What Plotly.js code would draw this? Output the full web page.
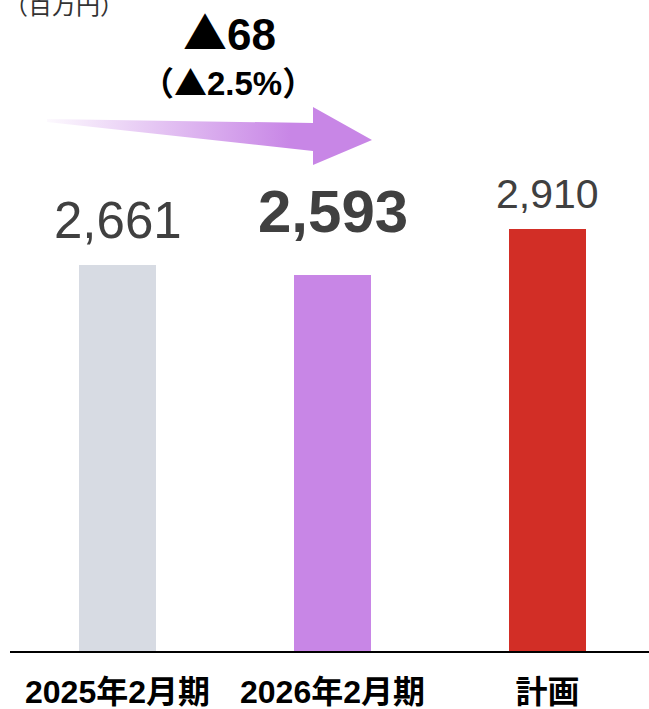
<!DOCTYPE html>
<html>
<head>
<meta charset="utf-8">
<script src="https://cdn.plot.ly/plotly-3.0.1.min.js"></script>
<style>
html,body{margin:0;padding:0;background:#fff;}
#chart{width:649px;height:709px;}
</style>
</head>
<body>
<div id="chart"></div>
<script>
// ---- data ----
const categories = ['2025年2月期', '2026年2月期', '計画'];
const values = [2661, 2593, 2910];
const barColors = ['#D7DBE3', '#C886E6', '#D22E26'];
const unitLabel = '（百万円）';
const changeLabel = '▲68';
const changePctLabel = '（▲2.5%）';

// ---- layout helpers (pixel space overlay for decoration) ----
const W = 649, H = 709;
const mL = 10, mR = 0, mT = 0, mB = 58;
const plotH = H - mT - mB;
const pxPerUnit = 0.14503;
const yMax = plotH / pxPerUnit;

const fontLatin = '"Liberation Sans", Arial, "Noto Sans CJK JP", sans-serif';
const cjkSpan = s => s.replace(/([（）▲])/g, '<span style="font-family:\'Noto Sans CJK JP\'">$1</span>');

const barTrace = {
  type: 'bar',
  x: categories,
  y: values,
  width: 0.358,
  marker: {color: barColors},
  hoverinfo: 'skip',
  xaxis: 'x', yaxis: 'y'
};

// decorative arrow (pixel coordinates on overlay axes)
const arrowX = [47, 313, 313, 372, 313, 313, 47, 47];
const arrowY = [119, 123, 107, 140, 165, 151, 122, 119];
const arrowTrace = {
  type: 'scatter',
  mode: 'lines',
  x: arrowX, y: arrowY,
  fill: 'toself',
  line: {width: 0, color: 'rgba(0,0,0,0)'},
  fillcolor: '#C886E6',
  fillgradient: {
    type: 'horizontal',
    colorscale: [[0, 'rgba(200,134,230,0.05)'], [0.75, 'rgba(200,134,230,1)'], [1, 'rgba(200,134,230,1)']]
  },
  hoverinfo: 'skip',
  showlegend: false,
  xaxis: 'x2', yaxis: 'y2'
};

const valueFonts = [
  {size: 51, weight: 'normal', shift: 45},
  {size: 60, weight: 'bold', shift: 63},
  {size: 41, weight: 'normal', shift: 35}
];

const annotations = categories.map((c, i) => ({
  xref: 'x', yref: 'y',
  x: c, y: values[i],
  text: values[i].toLocaleString('en-US'),
  showarrow: false,
  yanchor: 'middle',
  yshift: valueFonts[i].shift,
  font: {family: fontLatin, size: valueFonts[i].size, color: '#404040', weight: valueFonts[i].weight}
}));

annotations.push(
  {xref: 'x2', yref: 'y2', x: 64, y: 3, text: unitLabel, showarrow: false,
   xanchor: 'center', yanchor: 'middle',
   font: {family: '"Noto Sans CJK JP", sans-serif', size: 24, color: '#333333'}},
  {xref: 'x2', yref: 'y2', x: 229, y: 31, text: cjkSpan(changeLabel), showarrow: false,
   xanchor: 'center', yanchor: 'middle',
   font: {family: fontLatin, size: 44, color: '#000000', weight: 'bold'}},
  {xref: 'x2', yref: 'y2', x: 228, y: 81, text: cjkSpan(changePctLabel), showarrow: false,
   xanchor: 'center', yanchor: 'middle',
   font: {family: fontLatin, size: 33, color: '#000000', weight: 'bold'}}
);

const layout = {
  width: W, height: H,
  margin: {l: mL, r: mR, t: mT, b: mB, pad: 0},
  paper_bgcolor: '#ffffff',
  plot_bgcolor: 'rgba(0,0,0,0)',
  showlegend: false,
  bargap: 0,
  xaxis: {
    type: 'category',
    range: [-0.5, 2.472],
    showline: true, linecolor: '#000000', linewidth: 2,
    ticks: '', showgrid: false, zeroline: false,
    tickfont: {family: fontLatin, size: 32, color: '#000000', weight: 'bold'},
    ticklabelstandoff: 12,
    fixedrange: true
  },
  yaxis: {
    range: [0, yMax],
    visible: false, showgrid: false, zeroline: false,
    fixedrange: true
  },
  xaxis2: {overlaying: 'x', range: [mL, W - mR], visible: false, fixedrange: true},
  yaxis2: {overlaying: 'y', range: [plotH + mT, mT], visible: false, fixedrange: true},
  annotations: annotations
};

Plotly.newPlot('chart', [barTrace, arrowTrace], layout, {displayModeBar: false, staticPlot: true});
</script>
</body>
</html>
